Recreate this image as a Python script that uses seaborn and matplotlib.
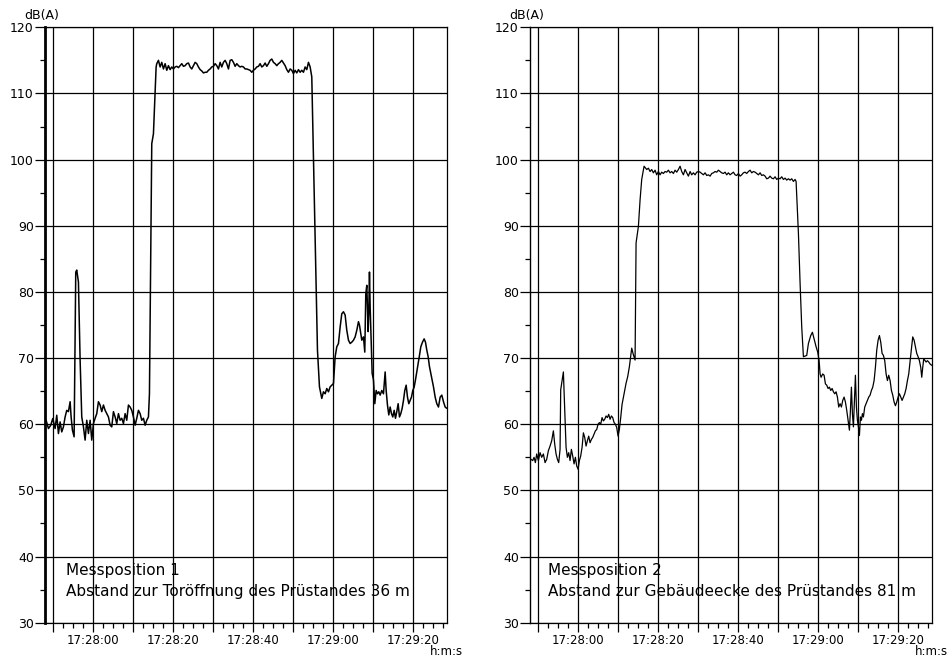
import numpy as np
import pandas as pd
import matplotlib
matplotlib.use("Agg")
import matplotlib.pyplot as plt
from matplotlib.ticker import FixedLocator, FixedFormatter, MultipleLocator
import seaborn as sns

OUTPUT_IMAGE_PATH = "out.png"

# Time is given in seconds relative to 17:28:00, level in dB(A)
POS1_SECONDS = [
    -11.83, -11.25, -10.67, -10.17, -9.58, -9.17, -8.75, -8.33, -7.92, -7.5,
    -7.08, -6.67, -6.25, -5.83, -5.58, -5.25, -4.83, -4.42, -4.17, -3.75,
    -3.33, -2.92, -2.5, -2.08, -1.67, -1.25, -0.83, -0.42, 0.0, 0.42,
    0.83, 1.25, 1.67, 2.08, 2.5, 2.92, 3.33, 3.75, 4.17, 4.58,
    5.0, 5.42, 5.83, 6.25, 6.67, 7.08, 7.5, 7.92, 8.33, 8.75,
    9.17, 9.58, 10.0, 10.42, 10.83, 11.25, 11.67, 12.08, 12.5, 12.92,
    13.33, 13.75, 14.0, 14.58, 15.0, 15.67, 15.83, 16.25, 16.67, 17.08,
    17.5, 17.92, 18.33, 18.75, 19.17, 19.58, 20.0, 20.42, 20.83, 21.25,
    21.67, 22.08, 22.5, 22.92, 23.33, 23.75, 24.17, 24.58, 25.0, 25.42,
    25.83, 26.25, 26.67, 27.08, 27.5, 27.92, 28.33, 28.75, 29.17, 29.58,
    30.0, 30.42, 30.83, 31.25, 31.67, 32.08, 32.5, 32.92, 33.33, 33.75,
    34.17, 34.58, 35.0, 35.42, 35.83, 36.25, 36.67, 37.08, 37.5, 37.92,
    38.33, 38.75, 39.17, 39.58, 40.0, 40.42, 40.83, 41.25, 41.67, 42.08,
    42.5, 42.92, 43.33, 43.75, 44.17, 44.58, 45.0, 45.42, 45.83, 46.25,
    46.67, 47.08, 47.5, 47.92, 48.33, 48.75, 49.17, 49.58, 50.0, 50.42,
    50.83, 51.25, 51.67, 52.08, 52.5, 52.92, 53.33, 53.75, 54.17, 54.58,
    55.42, 56.0, 56.5, 57.08, 57.5, 57.92, 58.33, 58.75, 59.17, 59.58,
    60.0, 60.42, 60.83, 61.25, 61.67, 62.08, 62.5, 62.92, 63.33, 63.75,
    64.17, 64.58, 65.0, 65.42, 65.83, 66.25, 66.5, 66.83, 67.08, 67.5,
    67.83, 68.08, 68.33, 68.5, 68.67, 68.83, 69.0, 69.17, 69.42, 69.67,
    70.0, 70.33, 70.67, 71.0, 71.33, 71.67, 72.08, 72.5, 72.92, 73.17,
    73.5, 73.83, 74.17, 74.5, 74.83, 75.17, 75.5, 75.83, 76.17, 76.5,
    76.83, 77.17, 77.5, 77.83, 78.17, 78.5, 78.83, 79.17, 79.5, 79.83,
    80.17, 80.5, 80.83, 81.17, 81.5, 81.83, 82.25, 82.67, 83.0, 83.33,
    83.67, 84.0, 84.33, 84.67, 85.0, 85.42, 85.83, 86.25, 86.67, 87.08,
    87.5, 87.92, 88.33,
]
POS1_DB = [
    60.6, 59.35, 59.85, 60.86, 59.35, 61.36, 58.59, 60.35, 58.84, 59.6,
    61.1, 62.1, 61.9, 63.4, 61.1, 59.1, 58.1, 83.0, 83.3, 81.5,
    69.7, 61.1, 59.6, 57.6, 60.6, 58.6, 60.6, 57.6, 60.1, 60.9,
    61.6, 63.4, 62.9, 61.9, 62.9, 62.1, 61.6, 61.1, 59.85, 59.6,
    61.9, 61.1, 60.1, 61.6, 60.6, 60.9, 60.1, 61.6, 60.6, 62.9,
    62.6, 62.1, 61.1, 59.85, 60.9, 62.1, 61.6, 60.6, 60.9, 59.85,
    60.6, 61.1, 64.6, 102.4, 103.9, 114.0, 114.5, 115.0, 114.0, 114.7,
    113.7, 114.5, 113.5, 114.2, 113.6, 114.0, 113.7, 114.0, 114.1, 113.9,
    114.2, 114.5, 114.1, 114.2, 114.5, 114.6, 114.0, 113.7, 114.2, 114.7,
    114.5, 114.0, 113.6, 113.4, 113.1, 113.2, 113.2, 113.5, 113.7, 114.0,
    114.1, 114.5, 114.2, 113.7, 114.7, 114.0, 114.7, 115.0, 114.5, 113.7,
    115.0, 115.1, 114.7, 114.1, 114.5, 114.2, 114.0, 114.1, 114.0, 113.7,
    113.7, 113.6, 113.5, 113.2, 113.5, 113.7, 114.0, 114.1, 114.5, 114.0,
    114.2, 114.6, 114.1, 114.5, 115.0, 115.2, 114.7, 114.5, 114.2, 114.5,
    114.7, 115.0, 114.6, 114.2, 113.6, 113.2, 113.7, 113.5, 113.0, 113.5,
    113.1, 113.6, 113.2, 113.5, 113.2, 114.0, 113.6, 114.7, 114.0, 112.5,
    87.8, 71.2, 65.65, 63.9, 64.9, 64.6, 65.4, 64.9, 65.65, 65.9,
    66.15, 70.2, 71.7, 72.2, 74.7, 76.7, 77.0, 76.5, 74.2, 72.7,
    72.2, 72.4, 72.7, 73.2, 74.2, 75.5, 75.0, 73.7, 72.7, 73.2,
    70.9, 79.7, 81.0, 77.7, 74.0, 76.7, 83.0, 77.7, 72.7, 67.7,
    66.7, 63.1, 65.1, 64.6, 64.9, 64.4, 65.1, 64.6, 67.9, 65.1,
    62.9, 61.4, 62.6, 61.6, 61.1, 62.1, 60.9, 61.9, 63.1, 61.1,
    61.6, 62.4, 63.6, 65.1, 65.9, 64.1, 63.1, 63.6, 64.1, 65.1,
    65.6, 66.7, 67.9, 69.2, 70.4, 71.7, 72.4, 72.9, 72.4, 71.2,
    70.2, 68.7, 67.7, 66.7, 65.65, 64.1, 63.1, 62.6, 64.1, 64.4,
    63.4, 62.6, 62.4,
]

POS2_SECONDS = [
    -11.83, -11.42, -11.08, -10.75, -10.42, -10.0, -9.58, -9.17, -8.75, -8.33,
    -7.92, -7.5, -7.08, -6.67, -6.25, -5.92, -5.58, -5.25, -4.92, -4.58,
    -4.42, -3.75, -3.42, -3.08, -2.75, -2.42, -2.08, -1.75, -1.42, -1.08,
    -0.75, -0.42, -0.08, 0.25, 0.58, 0.92, 1.25, 1.58, 1.92, 2.25,
    2.58, 2.92, 3.25, 3.58, 3.92, 4.25, 4.58, 4.92, 5.25, 5.58,
    5.92, 6.25, 6.58, 6.92, 7.25, 7.58, 7.92, 8.25, 8.58, 8.92,
    9.25, 9.58, 9.92, 10.25, 10.58, 10.92, 11.25, 11.42, 11.92, 12.33,
    12.75, 13.33, 13.75, 14.17, 14.42, 15.0, 15.42, 15.83, 16.42, 17.08,
    17.5, 17.92, 18.33, 18.75, 19.17, 19.58, 20.0, 20.42, 20.83, 21.25,
    21.67, 22.08, 22.5, 22.92, 23.33, 23.75, 24.17, 24.58, 25.0, 25.42,
    25.83, 26.25, 26.67, 27.08, 27.5, 27.92, 28.33, 28.75, 29.17, 29.58,
    30.0, 30.42, 30.83, 31.25, 31.67, 32.08, 32.5, 32.92, 33.33, 33.75,
    34.17, 34.58, 35.0, 35.42, 35.83, 36.25, 36.67, 37.08, 37.5, 37.92,
    38.33, 38.75, 39.17, 39.58, 40.0, 40.42, 40.83, 41.25, 41.67, 42.08,
    42.5, 42.92, 43.33, 43.75, 44.17, 44.58, 45.0, 45.42, 45.83, 46.25,
    46.67, 47.08, 47.5, 47.92, 48.33, 48.75, 49.17, 49.58, 50.0, 50.42,
    50.83, 51.25, 51.67, 52.08, 52.5, 52.92, 53.33, 53.75, 54.17, 54.42,
    55.0, 55.42, 55.83, 56.25, 57.08, 57.5, 58.08, 58.5, 58.92, 59.42,
    59.83, 60.17, 60.42, 60.67, 61.08, 61.42, 61.75, 62.08, 62.42, 62.75,
    63.08, 63.42, 63.75, 64.08, 64.42, 64.75, 65.08, 65.42, 65.75, 66.08,
    66.42, 66.75, 67.08, 67.42, 67.75, 68.0, 68.25, 68.5, 68.75, 69.0,
    69.25, 69.5, 69.75, 70.0, 70.25, 70.5, 70.75, 71.0, 71.25, 71.58,
    71.92, 72.25, 72.58, 72.92, 73.25, 73.58, 73.92, 74.25, 74.58, 74.92,
    75.25, 75.58, 75.92, 76.25, 76.58, 76.92, 77.25, 77.58, 77.92, 78.25,
    78.58, 78.92, 79.25, 79.58, 79.92, 80.25, 80.58, 80.92, 81.25, 81.58,
    81.92, 82.25, 82.58, 82.92, 83.25, 83.58, 83.92, 84.25, 84.58, 84.92,
    85.25, 85.58, 85.83, 86.08, 86.33, 86.67, 86.92, 87.25, 87.58, 87.92,
    88.33,
]
POS2_DB = [
    54.7, 54.5, 55.0, 54.2, 55.5, 54.5, 55.7, 55.0, 55.5, 54.2,
    54.7, 56.0, 56.7, 57.5, 59.0, 57.0, 55.5, 54.7, 54.2, 56.2,
    65.2, 67.9, 62.5, 56.5, 55.0, 55.7, 54.5, 56.2, 55.2, 54.0,
    55.0, 53.7, 53.2, 54.5, 55.2, 56.5, 58.7, 58.0, 56.7, 57.5,
    58.2, 57.2, 57.7, 58.0, 58.5, 59.0, 59.2, 60.0, 60.25, 60.0,
    61.0, 60.5, 60.75, 61.25, 61.0, 61.5, 60.75, 61.25, 61.0, 60.25,
    60.0, 59.5, 58.2, 59.25, 61.0, 63.0, 64.0, 64.6, 66.2, 67.2,
    68.7, 71.5, 70.5, 69.7, 87.4, 89.9, 93.9, 97.0, 99.0, 98.5,
    98.7, 98.2, 98.5, 98.0, 98.4, 97.7, 98.2, 97.7, 98.1, 97.9,
    98.2, 98.1, 98.4, 98.0, 98.2, 97.9, 98.4, 98.1, 98.5, 99.0,
    98.2, 97.7, 98.5, 98.0, 97.5, 98.2, 97.7, 98.0, 97.7, 98.1,
    98.2, 98.1, 97.9, 97.7, 98.0, 97.6, 97.7, 97.5, 97.9, 98.0,
    98.2, 98.1, 98.4, 98.2, 98.0, 97.9, 98.1, 97.7, 98.0, 97.7,
    97.9, 98.1, 97.7, 97.6, 97.9, 97.5, 97.7, 98.0, 98.1, 97.9,
    98.2, 98.4, 98.0, 98.2, 98.1, 97.9, 97.7, 98.0, 97.6, 97.7,
    97.5, 97.1, 97.2, 97.5, 97.2, 97.1, 97.4, 97.0, 97.2, 97.1,
    97.4, 97.0, 97.2, 96.9, 97.1, 96.9, 97.1, 96.7, 97.0, 96.7,
    88.9, 81.3, 74.7, 70.2, 70.4, 72.2, 73.4, 73.9, 72.9, 71.7,
    70.9, 69.6, 67.6, 67.1, 67.6, 67.4, 66.1, 65.9, 65.4, 65.6,
    65.1, 65.4, 64.9, 64.6, 64.9, 64.1, 62.6, 63.1, 62.6, 63.6,
    64.1, 63.35, 62.1, 60.6, 59.1, 62.1, 65.6, 61.6, 59.6, 63.6,
    67.4, 62.6, 60.6, 59.6, 58.3, 61.1, 60.6, 61.6, 61.1, 62.6,
    63.1, 63.6, 64.1, 64.4, 65.1, 65.6, 66.6, 68.6, 71.2, 72.7,
    73.4, 72.4, 70.7, 70.4, 69.6, 67.6, 66.6, 67.4, 66.6, 65.1,
    64.4, 63.35, 62.8, 63.35, 64.1, 64.6, 64.1, 63.6, 64.1, 64.6,
    65.4, 66.6, 67.6, 69.6, 71.4, 73.2, 72.7, 71.7, 70.7, 70.2,
    69.6, 68.6, 67.1, 68.6, 69.9, 69.6, 69.4, 69.6, 69.4, 69.1,
    68.9,
]

PANEL_TEXTS = [
    "Messposition 1\nAbstand zur Toröffnung des Prüstandes 36 m",
    "Messposition 2\nAbstand zur Gebäudeecke des Prüstandes 81 m",
]

X_MAJOR_TICKS = [-10, 0, 10, 20, 30, 40, 50, 60, 70, 80]
X_TICK_LABELS = ["", "17:28:00", "", "17:28:20", "", "17:28:40", "", "17:29:00", "", "17:29:20"]
Y_TICKS = [30, 40, 50, 60, 70, 80, 90, 100, 110, 120]


def style_panel(ax, left_spine_width):
    ax.set_xlim(-12.1, 88.3)
    ax.set_ylim(30, 120)

    ax.xaxis.set_major_locator(FixedLocator(X_MAJOR_TICKS))
    ax.xaxis.set_major_formatter(FixedFormatter(X_TICK_LABELS))
    ax.xaxis.set_minor_locator(MultipleLocator(2.5))
    ax.set_yticks(Y_TICKS)
    ax.set_yticklabels([str(v) for v in Y_TICKS])
    ax.yaxis.set_minor_locator(MultipleLocator(5))

    ax.tick_params(axis="x", which="major", direction="out", length=6.5, width=0.9,
                   labelsize=8.5, pad=2, colors="black", bottom=True)
    ax.tick_params(axis="x", which="minor", direction="out", length=3.5, width=0.9,
                   colors="black", bottom=True)
    ax.tick_params(axis="y", which="major", direction="out", length=7.5, width=0.9,
                   labelsize=9, pad=0.5, colors="black", left=True)
    ax.tick_params(axis="y", which="minor", direction="out", length=3.5, width=0.9,
                   colors="black", left=True)

    ax.set_xlabel("")
    ax.set_ylabel("")
    ax.grid(True, which="major", color="black", linewidth=0.9)
    ax.set_axisbelow(True)

    for side in ["top", "right", "bottom", "left"]:
        ax.spines[side].set_visible(True)
        ax.spines[side].set_color("black")
        ax.spines[side].set_linewidth(0.9)
    ax.spines["left"].set_linewidth(left_spine_width)

    ax.annotate("dB(A)", xy=(0, 1), xycoords="axes fraction", xytext=(-3, 12),
                textcoords="offset pixels", ha="center", va="center", fontsize=9,
                color="black")
    ax.annotate("h:m:s", xy=(1, 0), xycoords="axes fraction", xytext=(16, -29),
                textcoords="offset pixels", ha="right", va="center", fontsize=8.5,
                color="black")


def draw_panel(ax, seconds, levels, label, line_width, left_spine_width, text_offset):
    df = pd.DataFrame({"t": seconds, "level": levels})
    sns.lineplot(data=df, x="t", y="level", ax=ax, color="black",
                 linewidth=line_width, estimator=None, sort=False)
    style_panel(ax, left_spine_width)
    ax.annotate(label, xy=(0, 0), xycoords="axes fraction", xytext=(text_offset, 42),
                textcoords="offset pixels", ha="left", va="center", fontsize=11,
                linespacing=1.5, color="black")


def main():
    sns.set_theme(style="ticks")
    plt.rcParams["font.family"] = ["DejaVu Sans"]
    plt.rcParams["text.color"] = "black"

    fig = plt.figure(figsize=(9.52, 6.59), dpi=100)
    ax1 = fig.add_axes([0.0473, 0.0551, 0.4219, 0.9035])
    ax2 = fig.add_axes([0.5567, 0.0551, 0.4219, 0.9035])

    draw_panel(ax1, POS1_SECONDS, POS1_DB, PANEL_TEXTS[0], 1.1, 2.0, 21)
    draw_panel(ax2, POS2_SECONDS, POS2_DB, PANEL_TEXTS[1], 0.9, 1.0, 18)

    fig.savefig(OUTPUT_IMAGE_PATH, dpi=100, facecolor="white")
    plt.close(fig)


if __name__ == "__main__":
    main()
